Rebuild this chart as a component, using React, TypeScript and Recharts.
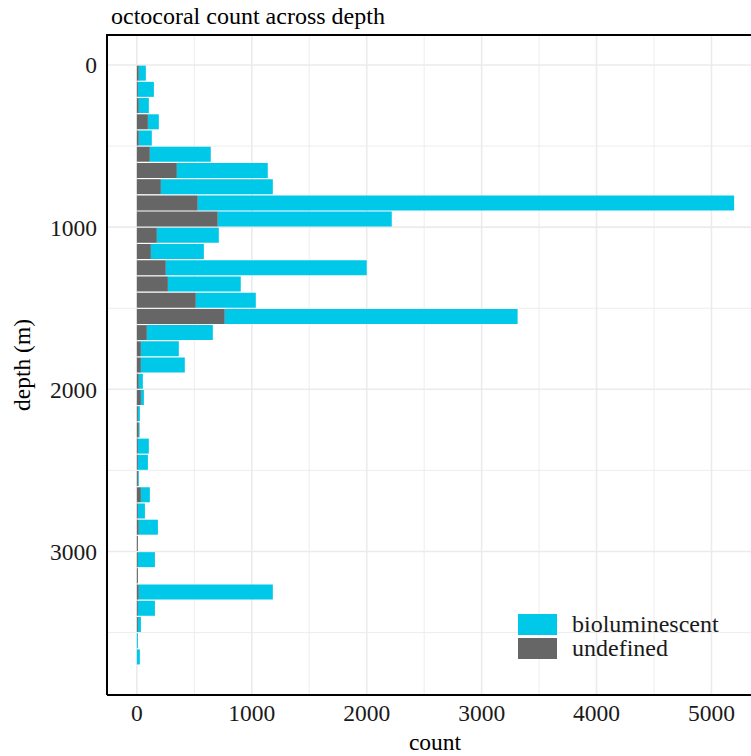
import React from 'react';
import {
  BarChart, Bar, XAxis, YAxis, Legend, CartesianGrid,
} from 'recharts';

// depth bins (midpoints, m)
const depths = [
  50, 150, 250, 350, 450, 550, 650, 750, 850, 950,
  1050, 1150, 1250, 1350, 1450, 1550, 1650, 1750, 1850, 1950,
  2050, 2150, 2250, 2350, 2450, 2550, 2650, 2750, 2850, 2950,
  3050, 3150, 3250, 3350, 3450, 3550, 3650,
];
const undefinedCounts = [
  17, 9, 17, 96, 17, 113, 348, 209, 530, 704,
  174, 122, 252, 270, 513, 765, 87, 35, 35, 17,
  35, 9, 17, 9, 9, 9, 35, 9, 17, 9,
  9, 9, 17, 9, 9, 0, 0,
];
const biolumCounts = [
  61, 139, 87, 95, 113, 530, 791, 974, 4667, 1514,
  539, 461, 1748, 634, 522, 2548, 574, 330, 382, 35,
  26, 17, 7, 95, 87, 8, 78, 61, 166, 0,
  148, 0, 1166, 148, 26, 9, 26,
];
const xTicks = [0, 1000, 2000, 3000, 4000, 5000];
const yTicks = [0, 1000, 2000, 3000];
const xMajor = [0, 1000, 2000, 3000, 4000, 5000];
const xMinor = [500, 1500, 2500, 3500, 4500];
const yMajor = [0, 1000, 2000, 3000];
const yMinor = [500, 1500, 2500, 3500];

const data = depths.map((d, i) => ({
  depth: d,
  undef: undefinedCounts[i],
  bio: biolumCounts[i],
}));

const font = '"Liberation Serif", serif';
const CYAN = '#00c8e8';
const GREY = '#666666';
const gridColor = '#ebebeb';
const tickStyle = { fontSize: 23.5, fill: '#1a1a1a', fontFamily: font };

const legendItems = [
  { name: 'bioluminescent', color: CYAN },
  { name: 'undefined', color: GREY },
];

function LegendBox() {
  return (
    <div style={{ fontFamily: font, fontSize: 24, color: '#1a1a1a' }}>
      {legendItems.map((it) => (
        <div key={it.name} style={{ display: 'flex', alignItems: 'center', height: 24 }}>
          <div style={{ width: 39, height: 21, background: it.color, marginRight: 15 }} />
          <span style={{ lineHeight: '24px' }}>{it.name}</span>
        </div>
      ))}
    </div>
  );
}

export default function App() {
  return (
    <div style={{ position: 'absolute', left: 0, top: 0, width: 751, height: 756, overflow: 'hidden', background: '#fff' }}>
      <div style={{ position: 'absolute', left: 111, top: 3, fontFamily: font, fontSize: 24, color: '#000', whiteSpace: 'nowrap' }}>
        octocoral count across depth
      </div>
      <div style={{ position: 'absolute', left: 0, top: 0 }}>
        <BarChart
          width={800}
          height={756}
          data={data}
          layout="vertical"
          barCategoryGap="4%"
          margin={{ top: 35, right: 36, bottom: 31, left: 7 }}
        >
          <CartesianGrid stroke={gridColor} strokeWidth={0.9} verticalValues={xMinor} horizontalValues={yMinor} />
          <CartesianGrid stroke={gridColor} strokeWidth={1.6} verticalValues={xMajor} horizontalValues={yMajor} />
          <XAxis
            type="number"
            domain={[-260, 5457]}
            ticks={xTicks}
            allowDataOverflow
            height={30}
            tickLine={false}
            tickSize={0}
            tickMargin={9}
            axisLine={{ stroke: '#000', strokeWidth: 2 }}
            tick={tickStyle}
          />
          <YAxis
            type="number"
            dataKey="depth"
            domain={[-185, 3885]}
            ticks={yTicks}
            allowDataOverflow
            width={100}
            tickLine={false}
            tickSize={0}
            tickMargin={10}
            axisLine={{ stroke: '#000', strokeWidth: 2 }}
            tick={tickStyle}
          />
          <Legend
            layout="horizontal"
            verticalAlign="middle"
            align="center"
            content={() => <LegendBox />}
            wrapperStyle={{ position: 'absolute', left: 518, top: 612, width: 230 }}
          />
          <Bar dataKey="undef" name="undefined" stackId="a" fill={GREY} isAnimationActive={false} />
          <Bar dataKey="bio" name="bioluminescent" stackId="a" fill={CYAN} isAnimationActive={false} />
        </BarChart>
      </div>
      {/* panel top border */}
      <div style={{ position: 'absolute', left: 106, top: 34, width: 660, height: 1.5, background: '#000' }} />
      <div
        style={{
          position: 'absolute', left: 22, top: 365, fontFamily: font, fontSize: 23.5, color: '#000',
          transform: 'translate(-50%, -50%) rotate(-90deg)', whiteSpace: 'nowrap',
        }}
      >
        depth (m)
      </div>
      <div
        style={{
          position: 'absolute', left: 435, top: 742, fontFamily: font, fontSize: 23.5, color: '#000',
          transform: 'translate(-50%, -50%)', whiteSpace: 'nowrap',
        }}
      >
        count
      </div>
    </div>
  );
}
